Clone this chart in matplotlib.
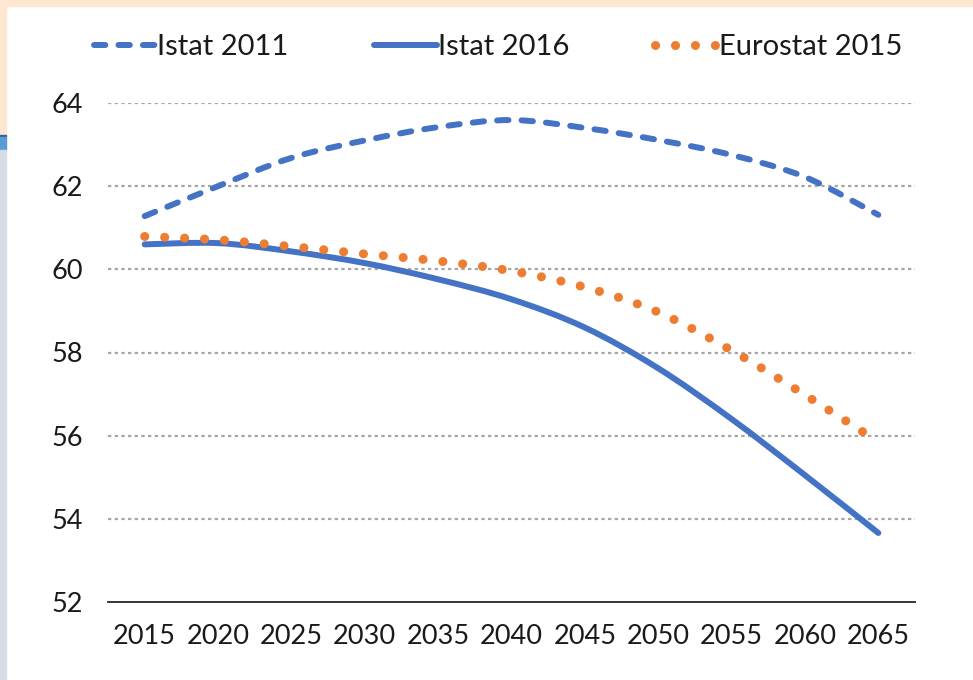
import matplotlib
matplotlib.use("Agg")
from matplotlib import pyplot as plt
from matplotlib.path import Path
from matplotlib.patches import PathPatch, Rectangle
from matplotlib.lines import Line2D

plt.rcParams['font.family'] = ['Lato', 'DejaVu Sans']

years = [2015, 2020, 2025, 2030, 2035, 2040, 2045, 2050, 2055, 2060, 2065]
istat_2011 = [61.28, 62.0, 62.68, 63.1, 63.42, 63.59, 63.4, 63.11, 62.75, 62.22, 61.31]
istat_2016 = [60.6, 60.63, 60.43, 60.15, 59.76, 59.28, 58.6, 57.62, 56.4, 55.05, 53.66]
eurostat_2015 = [60.79, 60.71, 60.55, 60.37, 60.2, 59.96, 59.57, 58.97, 58.05, 56.98, 55.85]
y_ticks = [52, 54, 56, 58, 60, 62, 64]

BLUE = '#4472C4'
ORANGE = '#ED7D31'
GRID = '#A6A6A6'
FS = 19.5


def smooth_path(xs, ys):
    '''cubic bezier through the points, like the smoothed lines of a spreadsheet chart'''
    pts = list(zip(xs, ys))
    verts = [pts[0]]
    codes = [Path.MOVETO]
    n = len(pts)
    for i in range(n - 1):
        p0 = pts[max(i - 1, 0)]
        p1 = pts[i]
        p2 = pts[i + 1]
        p3 = pts[min(i + 2, n - 1)]
        c1 = (p1[0] + (p2[0] - p0[0]) / 6, p1[1] + (p2[1] - p0[1]) / 6)
        c2 = (p2[0] - (p3[0] - p1[0]) / 6, p2[1] - (p3[1] - p1[1]) / 6)
        verts += [c1, c2, p2]
        codes += [Path.CURVE4] * 3
    return Path(verts, codes)


fig = plt.figure(figsize=[9.73, 6.8], dpi=100)

# background bits around the white panel
fig.patches.append(Rectangle((0, 1 - 6 / 680), 1, 6 / 680, transform=fig.transFigure,
                             color='#FDE7D0', zorder=0))
fig.patches.append(Rectangle((0, 1 - 135 / 680), 6 / 973, 135 / 680, transform=fig.transFigure,
                             color='#FDE7D0', zorder=0))
fig.patches.append(Rectangle((0, 1 - 137 / 680), 6 / 973, 2 / 680, transform=fig.transFigure,
                             color='#2E5E9E', zorder=0))
fig.patches.append(Rectangle((0, 1 - 150 / 680), 6 / 973, 13 / 680, transform=fig.transFigure,
                             color='#5B9BD5', zorder=0))
fig.patches.append(Rectangle((0, 0), 6 / 973, 1 - 150 / 680, transform=fig.transFigure,
                             color='#D6DCE5', zorder=0))

ax = fig.add_axes([108 / 973, 1 - 602 / 680, (915 - 108) / 973, (602 - 103) / 680])
ax.set_xlim(-0.5, len(years) - 0.5)
ax.set_ylim(52, 64)

for v in y_ticks[1:]:
    ax.axhline(v, color=GRID, linewidth=1.6, linestyle=(0, (1.5, 1.5)), zorder=1)

for sp in ['top', 'right', 'left']:
    ax.spines[sp].set_visible(False)
ax.spines['bottom'].set_color('#262626')
ax.spines['bottom'].set_linewidth(1.3)

ax.set_xticks(range(len(years)))
ax.set_xticklabels([str(y) for y in years], fontsize=FS, color='#1a1a1a')
ax.set_yticks(y_ticks)
ax.set_yticklabels([str(v) for v in y_ticks], fontsize=FS, color='#1a1a1a')
ax.tick_params(axis='both', length=0)
ax.tick_params(axis='y', pad=18)
ax.tick_params(axis='x', pad=16)

idx = list(range(len(years)))
styles = [
    (istat_2011, dict(edgecolor=BLUE, linewidth=4.3, linestyle=(0, (1.9, 2.2)), capstyle='round')),
    (istat_2016, dict(edgecolor=BLUE, linewidth=4.3, linestyle='-', capstyle='round')),
    (eurostat_2015, dict(edgecolor=ORANGE, linewidth=6.5, linestyle=(0, (0.01, 2.2)), capstyle='round')),
]
for series, st in styles:
    patch = PathPatch(smooth_path(idx, series), facecolor='none', zorder=3, **st)
    ax.add_patch(patch)

handles = [
    Line2D([], [], color=BLUE, linewidth=4.3, linestyle=(0, (1.9, 2.2)), dash_capstyle='round'),
    Line2D([], [], color=BLUE, linewidth=4.3, linestyle='-', solid_capstyle='round'),
    Line2D([], [], color=ORANGE, linewidth=6.5, linestyle=(0, (0.01, 2.2)), dash_capstyle='round'),
]
labels = ['Istat 2011', 'Istat 2016', 'Eurostat 2015']
fig.legend(handles, labels, loc='center', bbox_to_anchor=(498 / 973, 1 - 47 / 680), ncol=3,
           frameon=False, fontsize=21, handlelength=2.13, handletextpad=0.05,
           columnspacing=2.95, labelcolor='#1a1a1a')

plt.savefig("out.png", dpi=100)
